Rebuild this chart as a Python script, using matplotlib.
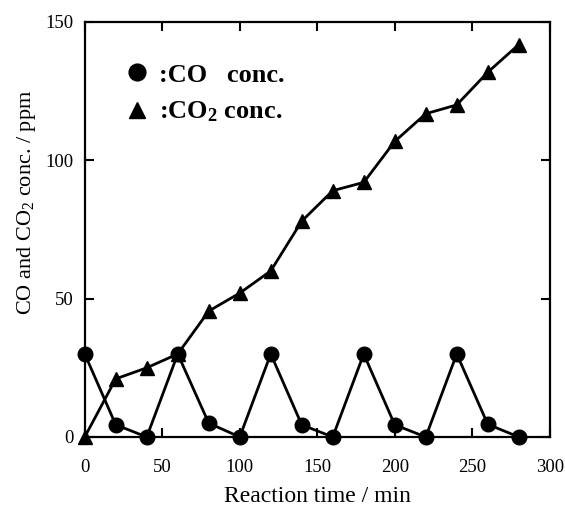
import matplotlib
matplotlib.use("Agg")
import matplotlib.pyplot as plt

plt.rcParams['font.family'] = ['Liberation Serif', 'DejaVu Serif']
plt.rcParams['mathtext.fontset'] = 'custom'
plt.rcParams['mathtext.rm'] = 'Liberation Serif'
plt.rcParams['mathtext.it'] = 'Liberation Serif:italic'
plt.rcParams['mathtext.bf'] = 'Liberation Serif:bold'

time_min = [0, 20, 40, 60, 80, 100, 120, 140, 160, 180, 200, 220, 240, 260, 280]
co_ppm = [30, 4.4, 0, 30, 5, 0, 30, 4.4, 0, 30, 4.4, 0, 30, 4.6, 0]
co2_ppm = [0, 21, 25, 30, 45.5, 52, 60, 78, 89, 92, 106.8, 116.8, 120, 131.8, 141.8]

x_ticks = [0, 50, 100, 150, 200, 250, 300]
y_ticks = [0, 50, 100, 150]

fig = plt.figure(figsize=(5.65, 5.09), dpi=100)
ax = fig.add_axes([0.150, 0.1415, 0.823, 0.8155])

l1, = ax.plot(time_min, co_ppm, color='black', lw=2, marker='o', ms=10.5, clip_on=False, zorder=3)
l2, = ax.plot(time_min, co2_ppm, color='black', lw=2, marker='^', ms=10, clip_on=False, zorder=3)

ax.set_xlim(0, 300)
ax.set_ylim(0, 150)
ax.set_xticks(x_ticks)
ax.set_yticks(y_ticks)
ax.tick_params(direction='in', length=6.5, width=1.5, labelsize=13.5, top=True, right=True)
ax.tick_params(axis='x', pad=16)
ax.tick_params(axis='y', pad=8)
for s in ax.spines.values():
    s.set_linewidth(1.6)

ax.set_xlabel('Reaction time / min', fontsize=17, labelpad=7)
ax.set_ylabel('CO and CO$_2$ conc. / ppm', fontsize=16)
ax.yaxis.set_label_coords(-0.101, 0.566)

leg = ax.legend([l1, l2], [':CO   conc.', ':CO$_\\mathbf{2}$ conc.'],
                loc='upper left', bbox_to_anchor=(0.061, 0.958), frameon=False,
                handlelength=0, handletextpad=0.85, labelspacing=0.5, markerscale=1.15,
                prop={'size': 19, 'weight': 'bold'})

fig.savefig('out.png', dpi=100)
